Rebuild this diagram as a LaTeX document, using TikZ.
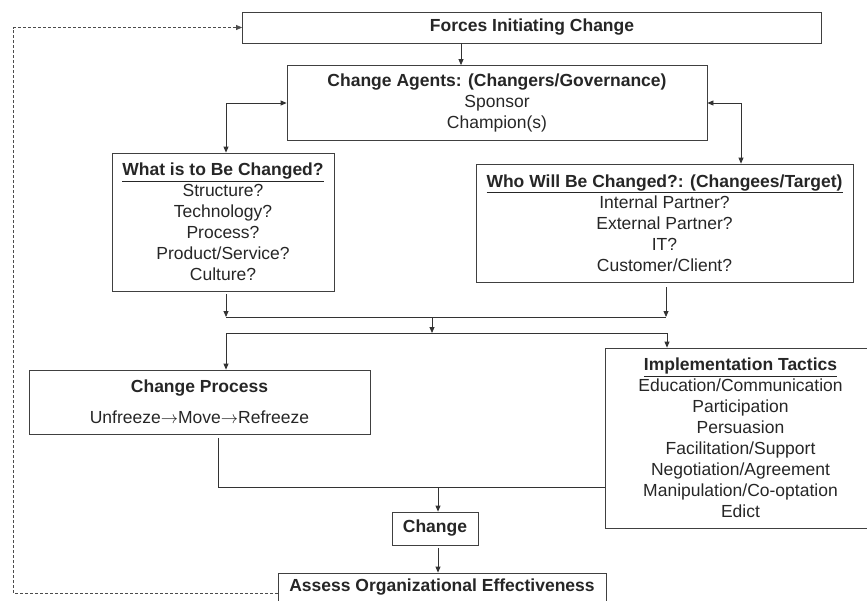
\documentclass[tikz,border=0pt]{standalone}
\usepackage{fontspec}
\setmainfont{Liberation Sans}
\usetikzlibrary{arrows.meta,calc}
\begin{document}
\begin{tikzpicture}[x=1pt,y=-1pt,
  box/.style={draw=black!75,line width=0.8pt,rectangle,inner sep=0pt,align=center,
    text=black!85,font=\fontsize{17.5}{21}\selectfont},
  conn/.style={draw=black!80,line width=0.8pt},
  arr/.style={conn,-{Triangle[length=6pt,width=5pt]}},
  arrb/.style={conn,{Triangle[length=6pt,width=5pt]}-{Triangle[length=6pt,width=5pt]}},
  dsh/.style={draw=black!70,line width=0.7pt,dash pattern=on 3pt off 2pt,-{Triangle[length=6pt,width=5pt]}}]
\useasboundingbox (0,0) rectangle (867,600);
% boxes
\node[box,minimum width=579,minimum height=31] (forces) at (532,27.5) {\textbf{Forces Initiating Change}};
\node[box,minimum width=420,minimum height=75] (agents) at (497,103) {\textbf{Change Agents: (Changers/Governance)}\\Sponsor\\Champion(s)};
\node[box,minimum width=222,minimum height=138] (what) at (223,222) {\underline{\textbf{What is to Be Changed?}}\\Structure?\\Technology?\\Process?\\Product/Service?\\Culture?};
\node[box,minimum width=377,minimum height=118] (who) at (664.5,223) {\underline{\textbf{Who Will Be Changed?: (Changees/Target)}}\\Internal Partner?\\External Partner?\\IT?\\Customer/Client?};
\node[box,minimum width=341,minimum height=64] (process) at (199.5,402) {\textbf{Change Process}\\[10pt]Unfreeze$\rightarrow$Move$\rightarrow$Refreeze};
\node[box,minimum width=271,minimum height=180] (impl) at (740.5,438) {\underline{\textbf{Implementation Tactics}}\\Education/Communication\\Participation\\Persuasion\\Facilitation/Support\\Negotiation/Agreement\\Manipulation/Co-optation\\Edict};
\node[box,minimum width=86,minimum height=33] (change) at (435,528.5) {\textbf{Change}};
\node[box,minimum width=328,minimum height=28] (assess) at (442,587) {\textbf{Assess Organizational Effectiveness}};
% helper coordinates
\coordinate (cF) at (461,0);
\coordinate (cL) at (226,0);
\coordinate (cR) at (741,0);
\coordinate (cW) at (666,0);
\coordinate (cM) at (432,0);
\coordinate (cI) at (667,0);
\coordinate (cP) at (218,0);
\coordinate (cC) at (438,0);
\coordinate (j1) at (0,317);
\coordinate (j2) at (0,333);
\coordinate (j3) at (0,487);
\coordinate (dBL) at (13,593);
% connectors
\draw[arr] (forces.south -| cF) -- (agents.north -| cF);
\draw[arrb] (agents.west) -| (cL |- what.north);
\draw[arrb] (agents.east) -| (cR |- who.north);
\draw[arr] ($(cL |- what.south)+(0,3)$) -- (cL |- j1);
\draw[arr] ($(cW |- who.south)+(0,5)$) -- (cW |- j1);
\draw[conn] (cL |- j1) -- (cW |- j1);
\draw[arr] (cM |- j1) -- (cM |- j2);
\draw[conn] (cL |- j2) -- (cI |- j2);
\draw[arr] (cL |- j2) -- (cL |- process.north);
\draw[arr] (cI |- j2) -- (cI |- impl.north);
\draw[conn] ($(cP |- process.south)+(0,4)$) |- (impl.west |- j3);
\draw[arr] (cC |- j3) -- (cC |- change.north);
\draw[arr] ($(cC |- change.south)+(0,3)$) -- (cC |- assess.north);
\draw[dsh] (assess.west |- dBL) -- (dBL) |- (forces.west);
\end{tikzpicture}
\end{document}
